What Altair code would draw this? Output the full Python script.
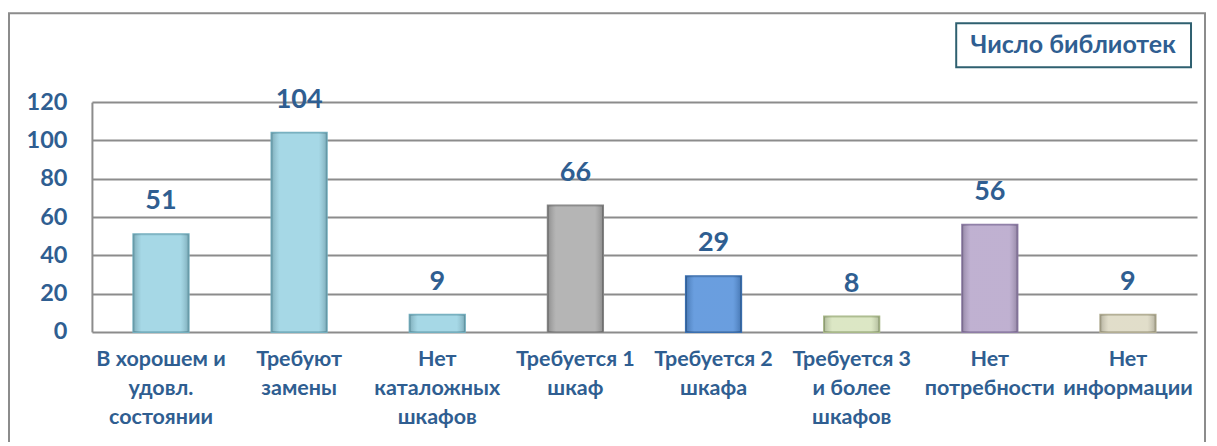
import altair as alt
import pandas as pd

categories = [
    "В хорошем и\nудовл.\nсостоянии",
    "Требуют\nзамены",
    "Нет\nкаталожных\nшкафов",
    "Требуется 1\nшкаф",
    "Требуется 2\nшкафа",
    "Требуется 3\nи более\nшкафов",
    "Нет\nпотребности",
    "Нет\nинформации",
]
values = [51, 104, 9, 66, 29, 8, 56, 9]
fills = ["#9AD3E3", "#9AD3E3", "#9AD3E3", "#ABABAB", "#5591DB", "#D7E4BD", "#B7A6CB", "#DDD9C3"]
strokes = ["#74AFBF", "#74AFBF", "#74AFBF", "#858585", "#3A6FB0", "#A9B98A", "#8E7DA6", "#B3AE94"]
series_name = ["Число библиотек"]
y_ticks = [0, 20, 40, 60, 80, 100, 120]

TXT = "#2F5E91"
FONT = "Lato"

df = pd.DataFrame({"cat": categories, "val": values, "fill": fills, "stroke": strokes})

x = alt.X("cat:N", sort=categories, title=None,
          scale=alt.Scale(paddingInner=0.6, paddingOuter=0.3),
          axis=alt.Axis(labelAngle=0, labelExpr="split(datum.label, '\\n')",
                        labelFont=FONT, labelFontSize=21.5, labelFontWeight="bold",
                        labelColor=TXT, labelLineHeight=29, labelPadding=17,
                        labelLimit=0, labelOverlap=False, ticks=False, domain=False,
                        grid=False, labelBaseline="top"))
y = alt.Y("val:Q", title=None,
          scale=alt.Scale(domain=[0, 120]),
          axis=alt.Axis(values=y_ticks, labelOverlap=False, tickCount=7,
                        labelFont=FONT, labelFontSize=23.5, labelFontWeight="bold",
                        labelColor=TXT, labelPadding=25, ticks=False,
                        domain=True, domainColor="#8C8C8C", domainWidth=2,
                        grid=True, gridColor="#8C8C8C", gridWidth=2))

base = alt.Chart(df).encode(x=x, y=y)

bars = base.mark_bar(strokeWidth=2).encode(
    fill=alt.Fill("fill:N", scale=None),
    stroke=alt.Stroke("stroke:N", scale=None),
)

shade = base.mark_bar(
    fill=alt.Gradient(
        gradient="linear", x1=0, x2=1, y1=0, y2=0,
        stops=[
            alt.GradientStop(color="rgba(0,0,0,0.18)", offset=0),
            alt.GradientStop(color="rgba(255,255,255,0.12)", offset=0.15),
            alt.GradientStop(color="rgba(255,255,255,0.12)", offset=0.85),
            alt.GradientStop(color="rgba(0,0,0,0.18)", offset=1),
        ],
    ),
    strokeWidth=0,
)

labels = base.mark_text(
    font=FONT, fontSize=27, fontWeight="bold", color=TXT,
    baseline="bottom", dy=-19
).encode(text="val:Q")

frame = alt.Chart(pd.DataFrame({"k": [0]})).mark_rect(
    fill=None, stroke="#8C8C8C", strokeWidth=2, clip=False
).encode(x=alt.value(-83), x2=alt.value(1114), y=alt.value(-89), y2=alt.value(380))

legend_df = pd.DataFrame({"name": series_name})
legend_box = alt.Chart(legend_df).mark_rect(
    fill="white", stroke="#2F6070", strokeWidth=2
).encode(x=alt.value(865), x2=alt.value(1100), y=alt.value(-79), y2=alt.value(-35))
legend_text = alt.Chart(legend_df).mark_text(
    font=FONT, fontSize=25, fontWeight="bold", color=TXT, align="center", baseline="middle"
).encode(x=alt.value(982), y=alt.value(-57), text="name:N")

chart = alt.layer(frame, bars, shade, labels, legend_box, legend_text).properties(
    width=1106, height=230,
    padding={"left": 84, "top": 94, "right": 12, "bottom": 110},
    autosize=alt.AutoSizeParams(type="none"),
    background="white",
).configure_view(stroke=None)

chart.save("out.html", embed_options={"renderer": "svg", "actions": False})
